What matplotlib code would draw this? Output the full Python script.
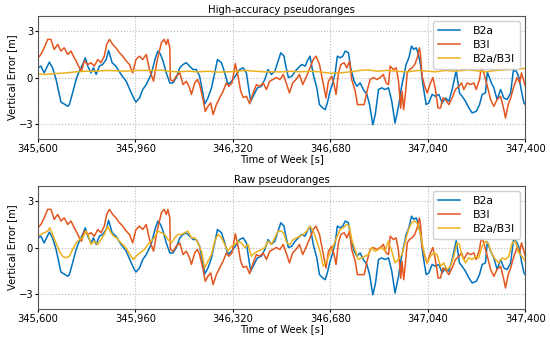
import matplotlib
matplotlib.use("Agg")
import matplotlib.pyplot as plt
from matplotlib.ticker import FuncFormatter

# ==== Daten ====
T0 = 345600

t_b2a = [0, 11, 23, 42, 54, 67, 79, 85, 97, 110, 116, 128, 141, 150, 165, 175, 184, 196, 205, 215,
         227, 239, 252, 261, 274, 288, 307, 326, 342, 356, 362, 375, 387, 400, 418, 434, 443, 453, 462,
         474, 487, 499, 511, 524, 536, 548, 560, 573, 585, 597, 610, 616, 628, 641, 653, 663, 678, 690,
         702, 715, 729, 745, 758, 770, 779, 786, 798, 811, 825, 838, 850, 862, 875, 887, 897, 909, 913,
         925, 938, 950, 962, 974, 987, 995, 1005, 1017, 1030, 1040, 1052, 1061, 1069, 1079, 1089, 1098,
         1106, 1116, 1126, 1135, 1147, 1156, 1168, 1178, 1190, 1202, 1215, 1225, 1237, 1246, 1258, 1270,
         1282, 1295, 1307, 1319, 1332, 1340, 1350, 1360, 1370, 1380, 1388, 1397, 1404, 1413, 1422, 1434,
         1444, 1456, 1468, 1481, 1493, 1505, 1518, 1530, 1545, 1557, 1567, 1579, 1592, 1604, 1619, 1631,
         1641, 1653, 1660, 1675, 1684, 1696, 1709, 1721, 1733, 1746, 1756, 1767, 1777, 1786, 1795, 1800]
b2a = [0.63, 0.74, 0.3, 1.0, 0.63, -0.13, -1.1, -1.6, -1.72, -1.87, -1.76, -1.0, -0.13, 0.3, 0.85, 1.28,
       0.74, 0.3, 0.63, 0.2, 0.74, 0.85, 1.17, 1.76, 0.96, 0.74, 0.2, -0.24, -0.89, -1.43, -1.59, -1.33,
       -0.78, -0.46, 0.2, 1.28, 1.72, 1.5, 1.07, 0.3, -0.35, -0.35, 0.0, 0.63, 0.85, 0.96, 0.74, 0.52,
       0.52, 0.09, -1.1, -1.72, -1.33, -0.67, 0.3, 1.17, 0.96, 0.3, -0.46, -0.24, 0.09, 0.52, 0.63, 0.3,
       -0.78, -1.54, -1.1, -0.67, -0.57, -0.13, 0.52, 0.2, 0.41, 1.07, 1.61, 1.39, 0.96, 0.0, 0.09, 0.41,
       0.63, 0.85, 0.74, 1.07, 1.39, 0.2, -0.67, -1.76, -1.98, -2.09, -1.65, -0.89, -0.35, 0.3, 1.39,
       1.28, 1.39, 1.72, 1.61, 0.52, -0.24, -0.57, -0.35, -0.78, -1.1, -1.76, -3.07, -2.41, -0.78, -0.67,
       -0.78, -0.67, -1.54, -2.96, -1.87, -0.89, 0.0, 0.85, 1.28, 2.04, 1.83, 1.93, 1.61, 0.85, -0.46,
       -1.76, -1.65, -1.1, -1.22, -1.1, -1.65, -1.33, -1.54, -0.78, 0.45, -1.0, -1.22, -1.54, -1.98,
       -2.3, -2.2, -1.76, -1.1, -1.0, 0.35, -0.35, -0.67, -1.43, -0.78, -1.33, -1.43, -1.0, 0.45, 0.41,
       0.0, -0.89, -1.65, -1.76]

t_b3i = [0, 11, 23, 36, 48, 60, 73, 85, 97, 110, 122, 131, 141, 153, 161, 171, 184, 196, 208, 221, 233,
         245, 254, 264, 276, 288, 301, 313, 326, 338, 350, 362, 375, 387, 400, 412, 427, 440, 456, 466,
         474, 480, 487, 489, 499, 511, 524, 536, 548, 560, 567, 579, 589, 597, 610, 618, 628, 638, 647,
         659, 671, 684, 696, 705, 717, 729, 739, 749, 758, 770, 782, 795, 807, 819, 832, 844, 856, 868,
         881, 894, 906, 919, 929, 941, 953, 966, 978, 990, 1005, 1017, 1027, 1040, 1052, 1064, 1073, 1085,
         1094, 1101, 1110, 1119, 1131, 1141, 1151, 1159, 1172, 1180, 1193, 1205, 1217, 1227, 1239, 1252,
         1264, 1276, 1286, 1295, 1301, 1313, 1323, 1332, 1340, 1345, 1351, 1357, 1364, 1372, 1382, 1392,
         1401, 1409, 1413, 1419, 1429, 1438, 1450, 1459, 1468, 1478, 1487, 1496, 1505, 1518, 1530, 1542,
         1555, 1565, 1573, 1586, 1598, 1610, 1619, 1631, 1638, 1647, 1660, 1672, 1684, 1696, 1709, 1721,
         1727, 1737, 1746, 1758, 1770, 1779, 1786, 1795, 1800]
b3i = [1.28, 1.5, 1.93, 2.48, 2.48, 1.83, 2.15, 1.72, 1.93, 1.5, 1.72, 1.39, 1.07, 0.63, 0.41, 1.07, 0.85,
       0.96, 0.74, 1.17, 0.96, 1.39, 2.15, 2.48, 2.15, 1.93, 1.61, 1.39, 1.07, 0.85, 0.3, 1.17, 1.39, 1.17,
       1.5, 0.52, -0.24, 1.07, 2.26, 2.48, 2.15, 2.48, 1.93, -0.13, -0.24, 0.09, 0.3, -0.46, -0.24, -0.67,
       -1.1, -0.35, -0.13, -0.46, -1.43, -2.2, -1.87, -1.65, -2.41, -1.76, -1.33, -0.89, -0.35, -0.57,
       -0.35, 0.9, 0.09, -0.89, -1.3, -1.22, -1.7, -1.0, -0.46, -0.57, -0.35, -0.78, -0.24, -0.13, 0.0,
       -0.13, 0.2, -0.46, -1.0, -0.35, -0.13, 0.2, -0.46, 0.0, 0.63, 1.17, 1.39, 0.85, -0.24, -1.33,
       -0.24, 0.09, -0.46, -1.1, 0.3, 0.85, 0.96, 0.63, 1.07, -0.13, -0.89, -1.76, -1.76, -1.76, -0.78,
       -0.13, 0.0, -0.13, 0.0, 0.2, -0.35, -0.46, 0.74, 0.52, 0.63, -0.24, -2.0, -0.89, -2.09, -1.1, 0.3,
       0.52, 0.63, 0.85, 1.28, 1.93, 1.5, 0.09, -0.57, -1.0, -0.35, 0.0, -0.78, -1.98, -1.98, -1.33,
       -1.43, -1.76, -1.33, -0.78, -0.57, -0.35, -0.78, -0.35, -0.46, -0.35, -0.78, -0.13, 0.7, 0.3,
       -0.57, -1.43, -1.87, -1.43, -1.22, -2.09, -2.63, -1.76, -1.33, -0.57, 0.0, -0.35, 0.3, -0.24, -0.57]

t_hi = [0, 30, 67, 104, 141, 178, 215, 252, 289, 326, 362, 400, 437, 455, 480, 517, 554, 591, 628, 665,
        702, 739, 764, 801, 838, 875, 909, 931, 968, 1005, 1042, 1079, 1116, 1153, 1190, 1221, 1251, 1288,
        1325, 1360, 1407, 1468, 1505, 1542, 1591, 1653, 1690, 1740, 1800]
hi_combo = [0.24, 0.2, 0.26, 0.3, 0.37, 0.41, 0.41, 0.46, 0.44, 0.41, 0.46, 0.46, 0.46, 0.48, 0.41, 0.37,
            0.41, 0.37, 0.41, 0.35, 0.37, 0.41, 0.46, 0.41, 0.37, 0.37, 0.37, 0.41, 0.37, 0.41, 0.37, 0.28,
            0.3, 0.37, 0.46, 0.5, 0.41, 0.46, 0.41, 0.37, 0.46, 0.37, 0.46, 0.41, 0.5, 0.37, 0.46, 0.52,
            0.59]

t_raw = [0, 11, 23, 36, 44, 54, 67, 79, 91, 104, 116, 128, 141, 153, 165, 178, 187, 196, 208, 221, 233,
         245, 258, 266, 279, 291, 307, 319, 332, 344, 353, 362, 377, 393, 406, 418, 430, 443, 456, 468,
         480, 493, 505, 517, 530, 542, 554, 567, 579, 591, 604, 616, 628, 641, 653, 665, 678, 690, 702,
         715, 727, 739, 751, 764, 776, 788, 801, 813, 825, 838, 850, 862, 875, 887, 899, 909, 919, 931,
         943, 956, 968, 980, 993, 1005, 1017, 1030, 1042, 1054, 1066, 1079, 1091, 1103, 1116, 1128, 1140,
         1150, 1159, 1171, 1183, 1196, 1208, 1220, 1233, 1245, 1257, 1270, 1282, 1294, 1307, 1319, 1331,
         1345, 1357, 1367, 1380, 1392, 1404, 1413, 1425, 1437, 1450, 1462, 1474, 1487, 1499, 1511, 1524,
         1536, 1548, 1557, 1567, 1579, 1591, 1604, 1616, 1628, 1641, 1653, 1665, 1678, 1690, 1702, 1715,
         1727, 1739, 1752, 1764, 1776, 1788, 1800]
raw_combo = [0.74, 0.85, 0.96, 1.07, 1.28, 0.85, 0.3, -0.24, -0.57, -0.67, -0.57, -0.13, 0.3, 0.52, 0.63,
             1.07, 0.74, 0.2, 0.41, 0.2, 0.52, 0.85, 1.39, 1.07, 0.74, 0.63, 0.3, 0.09, -0.24, -0.57,
             -0.78, -0.57, -0.35, -0.13, 0.2, 0.41, 0.63, 1.07, 0.96, 0.85, 0.52, 0.3, 0.63, 0.85, 0.85,
             0.96, 1.07, 0.63, 0.63, 0.3, -0.24, -1.33, -0.89, -0.46, 0.41, 0.85, 0.63, 0.2, -0.24, 0.09,
             0.2, 0.41, 0.3, 0.0, 0.2, -0.57, -0.35, -0.24, -0.13, 0.0, 0.41, 0.2, 0.63, 1.07, 1.07, 0.9,
             0.3, 0.2, 0.52, 0.63, 0.74, 0.85, 1.07, 1.39, 1.07, 0.41, -0.24, -1.22, -0.89, -0.35, 0.09,
             0.63, 1.17, 1.28, 1.5, 1.39, 0.52, -0.13, -0.78, -0.67, -0.57, -0.46, 0.0, -0.24, -0.13, 0.0,
             -0.24, 0.41, -0.24, -1.0, -0.78, -0.45, 0.41, 1.07, 1.61, 1.72, 1.5, 0.85, -0.24, -1.0, -0.57,
             -0.35, -0.46, -1.22, -1.0, -1.43, -1.22, -0.57, 0.3, 0.2, -0.57, -1.0, -0.67, -0.78, -0.57,
             -0.67, 0.09, 0.41, 0.2, -0.46, -0.78, -1.0, -0.67, -0.78, -0.57, 0.3, 0.41, -0.35, -0.57, -0.89]

XTICKS = [0, 360, 720, 1080, 1440, 1800]
COLORS = {"B2a": "#0072BD", "B3I": "#E4561F", "B2a/B3I": "#EDB120"}

plt.rcParams["font.family"] = "DejaVu Sans"
plt.rcParams["font.size"] = 7.2


def abs_t(ts):
    return [T0 + t for t in ts]


def style_axes(ax, title):
    ax.set_title(title, fontsize=7.3, pad=2)
    ax.set_xlim(T0, T0 + 1800)
    ax.set_ylim(-4, 4)
    ax.set_xticks([T0 + x for x in XTICKS])
    ax.set_yticks([-3, 0, 3])
    ax.xaxis.set_major_formatter(FuncFormatter(lambda v, p: f"{int(round(v)):,}"))
    ax.yaxis.set_major_formatter(FuncFormatter(lambda v, p: f"{int(v)}".replace("-", "\u2212")))
    ax.set_xlabel("Time of Week [s]", labelpad=0)
    ax.set_ylabel("Vertical Error [m]", labelpad=1)
    ax.grid(True, linestyle=":", color="#b8b8b8", linewidth=0.8)
    ax.tick_params(length=2, pad=1.5)
    for s in ax.spines.values():
        s.set_color("#555555")
    ax.legend(loc="upper right", fontsize=7.8, handlelength=2.0, borderpad=0.45,
              labelspacing=0.35, handletextpad=1.2, framealpha=0.9)


fig = plt.figure(figsize=(5.5, 3.4), dpi=100)
ax1 = fig.add_axes([0.069, 0.591, 0.886, 0.362])
ax2 = fig.add_axes([0.069, 0.091, 0.886, 0.362])

for ax, tc, combo, title in [(ax1, t_hi, hi_combo, "High-accuracy pseudoranges"),
                             (ax2, t_raw, raw_combo, "Raw pseudoranges")]:
    ax.plot(abs_t(t_b2a), b2a, color=COLORS["B2a"], lw=1.1, label="B2a")
    ax.plot(abs_t(t_b3i), b3i, color=COLORS["B3I"], lw=1.1, label="B3I")
    ax.plot(abs_t(tc), combo, color=COLORS["B2a/B3I"], lw=1.1, label="B2a/B3I")
    style_axes(ax, title)

fig.savefig("out.png", dpi=100)
